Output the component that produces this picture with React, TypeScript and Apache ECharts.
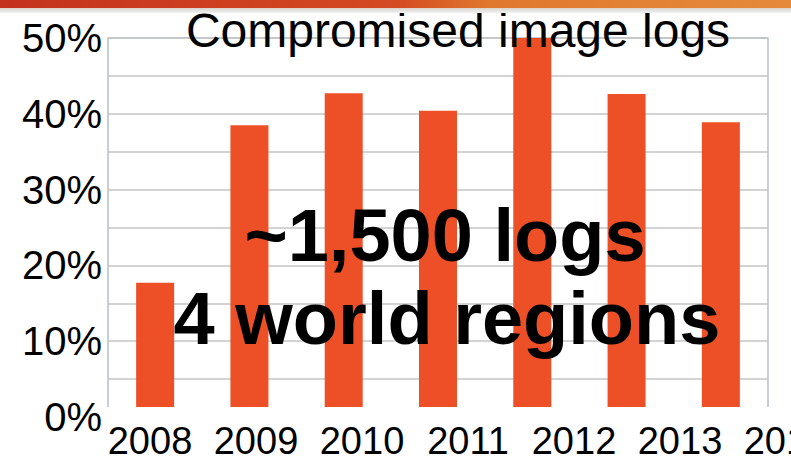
import React, { useEffect, useRef } from "react";
import * as echarts from "echarts";

// Share of compromised image logs per year (%)
const years = ["2008", "2009", "2010", "2011", "2012", "2013", "2014"];
const compromisedShare = [17.7, 38.5, 42.7, 40.4, 50, 42.6, 38.9];
const chartTitle = "Compromised image logs";
const noteLines = ["~1,500 logs", "4 world regions"];

const FONT = "'Liberation Sans', Arial, sans-serif";
const BAR = "#ED5027";

export default function App() {
  const ref = useRef<HTMLDivElement>(null);

  useEffect(() => {
    if (!ref.current) return;
    const chart = echarts.init(ref.current, null, { renderer: "svg" });
    chart.setOption({
      animation: false,
      backgroundColor: "#ffffff",
      title: {
        text: chartTitle,
        left: 453,
        top: 1,
        textAlign: "center",
        textStyle: { fontFamily: FONT, fontSize: 48, fontWeight: "normal", color: "#000" },
      },
      grid: [
        {
          left: 108,
          right: 23,
          top: 38,
          bottom: 46,
          show: true,
          borderColor: "#b4bfca",
          borderWidth: 1.5,
          backgroundColor: "#fff",
        },
        // wider band used only for the year labels (runs past the right edge)
        { left: 97, width: 742, top: 38, bottom: 46, outerBoundsMode: "none" },
      ],
      xAxis: [
        {
          type: "category",
          gridIndex: 0,
          data: years,
          axisLine: { show: false },
          axisTick: { show: false },
          axisLabel: { show: false },
        },
        {
          type: "category",
          gridIndex: 1,
          data: years,
          axisLine: { show: false },
          axisTick: { show: false },
          axisLabel: {
            interval: 0,
            margin: 7,
            fontFamily: FONT,
            fontSize: 38,
            lineHeight: 34,
            color: "#000",
          },
        },
      ],
      yAxis: [
        {
          type: "value",
          gridIndex: 0,
          min: 0,
          max: 50,
          interval: 5,
          axisLine: { show: false },
          axisTick: { show: false },
          splitLine: { lineStyle: { color: "#c4c4c4", width: 1.5 } },
          axisLabel: {
            margin: 6,
            fontFamily: FONT,
            fontSize: 40,
            color: "#000",
            formatter: (v: number) => (v % 10 === 0 ? `${v}%` : ""),
          },
        },
        {
          type: "value",
          gridIndex: 1,
          show: false,
          min: 0,
          max: 50,
        },
      ],
      series: [
        {
          type: "bar",
          xAxisIndex: 0,
          yAxisIndex: 0,
          data: compromisedShare,
          barWidth: 38,
          itemStyle: { color: BAR },
        },
      ],
      graphic: [
        // slide header band
        {
          type: "rect",
          left: 0,
          top: 0,
          z: 100,
          shape: { width: 791, height: 8 },
          style: {
            fill: new echarts.graphic.LinearGradient(0, 0, 1, 0, [
              { offset: 0, color: "#c4321d" },
              { offset: 0.5, color: "#d44a22" },
              { offset: 0.62, color: "#e0782e" },
              { offset: 1, color: "#e58a3a" },
            ]),
          },
        },
        {
          type: "rect",
          left: 0,
          top: 8,
          z: 100,
          shape: { width: 791, height: 5 },
          style: {
            fill: new echarts.graphic.LinearGradient(0, 0, 0, 1, [
              { offset: 0, color: "#d8d2cc" },
              { offset: 1, color: "#f2f2f2" },
            ]),
          },
        },
        // lower edge of the plot is masked
        {
          type: "rect",
          z: 100,
          shape: { x: 104, y: 407, width: 670, height: 14 },
          style: { fill: "#ffffff" },
        },
        {
          type: "text",
          z: 110,
          x: 445,
          y: 235,
          style: {
            text: noteLines[0],
            fontFamily: FONT,
            fontSize: 74,
            fontWeight: "bold",
            fill: "#000",
            align: "center",
            verticalAlign: "middle",
          },
        },
        {
          type: "text",
          z: 110,
          x: 447,
          y: 318,
          style: {
            text: noteLines[1],
            fontFamily: FONT,
            fontSize: 74,
            fontWeight: "bold",
            fill: "#000",
            align: "center",
            verticalAlign: "middle",
          },
        },
      ],
    });
    return () => chart.dispose();
  }, []);

  return (
    <div
      ref={ref}
      style={{ position: "fixed", left: 0, top: 0, width: 791, height: 463 }}
    />
  );
}
